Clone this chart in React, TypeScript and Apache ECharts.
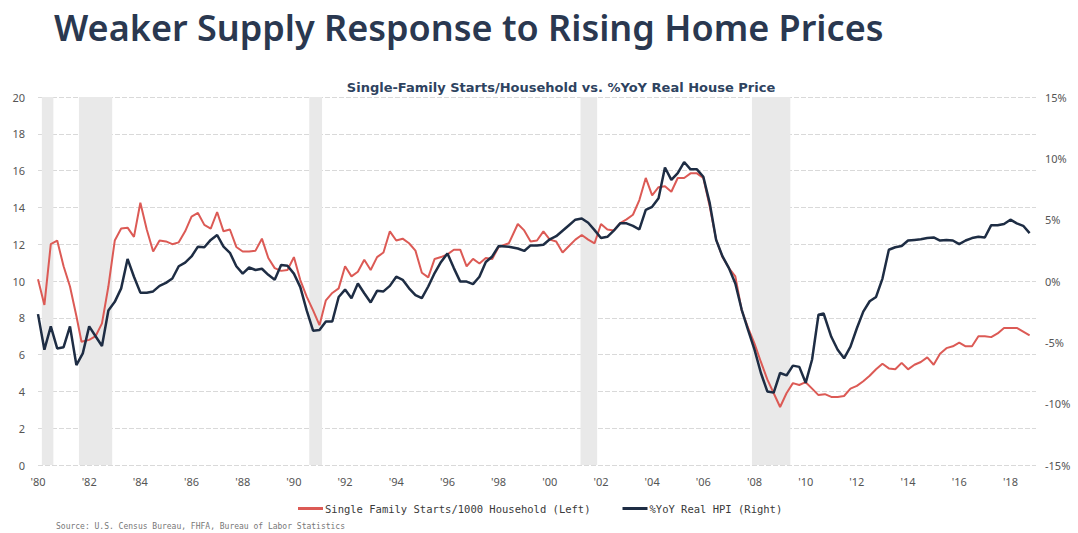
import React, { useEffect, useRef } from "react";
import * as echarts from "echarts";

const titleText = "Weaker Supply Response to Rising Home Prices";
const subtitleText = "Single-Family Starts/Household vs. %YoY Real House Price";
const sourceText = "Source: U.S. Census Bureau, FHFA, Bureau of Labor Statistics";
const startsName = "Single Family Starts/1000 Household (Left)";
const hpiName = "%YoY Real HPI (Right)";

// [year, starts per 1000 households]
const startsSeries: [number, number][] = [
  [1980.0, 10.1], [1980.25, 8.7], [1980.5, 12.0], [1980.75, 12.2],
  [1981.0, 10.8], [1981.25, 9.7], [1981.5, 8.1], [1981.7, 6.7],
  [1982.0, 6.8], [1982.25, 7.0], [1982.5, 7.7], [1982.75, 9.7],
  [1983.0, 12.2], [1983.25, 12.85], [1983.5, 12.9], [1983.75, 12.4],
  [1984.0, 14.25], [1984.25, 12.8], [1984.5, 11.6], [1984.75, 12.2],
  [1985.0, 12.15], [1985.25, 12.0], [1985.5, 12.1], [1985.75, 12.7],
  [1986.0, 13.5], [1986.25, 13.7], [1986.5, 13.05], [1986.75, 12.85],
  [1987.0, 13.75], [1987.25, 12.7], [1987.5, 12.8], [1987.75, 11.85],
  [1988.0, 11.6], [1988.25, 11.6], [1988.5, 11.65], [1988.75, 12.3],
  [1989.0, 11.25], [1989.25, 10.7], [1989.5, 10.55], [1989.75, 10.6],
  [1990.0, 11.3], [1990.25, 10.05], [1990.5, 9.15], [1990.75, 8.4],
  [1991.0, 7.6], [1991.25, 8.95], [1991.5, 9.35], [1991.75, 9.6],
  [1992.0, 10.8], [1992.25, 10.25], [1992.5, 10.5], [1992.75, 11.15],
  [1993.0, 10.6], [1993.25, 11.3], [1993.5, 11.55], [1993.75, 12.7],
  [1994.0, 12.2], [1994.25, 12.3], [1994.5, 12.05], [1994.75, 11.65],
  [1995.0, 10.45], [1995.25, 10.2], [1995.5, 11.2], [1995.75, 11.3],
  [1996.0, 11.45], [1996.25, 11.7], [1996.5, 11.7], [1996.75, 10.8],
  [1997.0, 11.2], [1997.25, 10.95], [1997.5, 11.25], [1997.75, 11.2],
  [1998.0, 11.85], [1998.4, 12.05], [1998.75, 13.1],
  [1999.0, 12.75], [1999.25, 12.15], [1999.5, 12.2], [1999.75, 12.7],
  [2000.0, 12.25], [2000.25, 12.15], [2000.5, 11.55], [2000.75, 11.9],
  [2001.0, 12.25], [2001.25, 12.5], [2001.5, 12.25], [2001.75, 12.05],
  [2002.0, 13.1], [2002.25, 12.8], [2002.5, 12.75], [2002.75, 13.15],
  [2003.0, 13.35], [2003.25, 13.6], [2003.5, 14.4], [2003.75, 15.6],
  [2004.0, 14.65], [2004.25, 15.1], [2004.5, 15.15], [2004.75, 14.85],
  [2005.0, 15.6], [2005.25, 15.6], [2005.5, 15.85], [2005.75, 15.85],
  [2006.0, 15.6], [2006.25, 14.05], [2006.5, 12.25], [2006.75, 11.3],
  [2007.0, 10.7], [2007.25, 10.25], [2007.5, 8.4], [2007.75, 7.45],
  [2008.0, 6.6], [2008.25, 5.6], [2008.5, 4.65], [2008.75, 3.9],
  [2009.0, 3.15], [2009.25, 3.9], [2009.5, 4.45], [2009.75, 4.35],
  [2010.0, 4.5], [2010.25, 4.15], [2010.5, 3.8], [2010.75, 3.85],
  [2011.0, 3.7], [2011.25, 3.7], [2011.5, 3.75], [2011.75, 4.15],
  [2012.0, 4.3], [2012.25, 4.55], [2012.5, 4.85], [2012.75, 5.2],
  [2013.0, 5.5], [2013.25, 5.25], [2013.5, 5.2], [2013.75, 5.55],
  [2014.0, 5.2], [2014.25, 5.45], [2014.5, 5.6], [2014.75, 5.85],
  [2015.0, 5.45], [2015.25, 6.05], [2015.5, 6.35], [2015.75, 6.45],
  [2016.0, 6.65], [2016.25, 6.45], [2016.5, 6.45], [2016.75, 7.0],
  [2017.0, 7.0], [2017.25, 6.95], [2017.5, 7.15], [2017.75, 7.45],
  [2018.0, 7.45], [2018.25, 7.45], [2018.5, 7.25], [2018.75, 7.05],
];

// [year, % YoY real HPI]
const hpiSeries: [number, number][] = [
  [1980.0, -2.7], [1980.25, -5.6], [1980.5, -3.7], [1980.75, -5.5],
  [1981.0, -5.4], [1981.25, -3.7], [1981.5, -6.85], [1981.75, -5.9],
  [1982.0, -3.7], [1982.25, -4.5], [1982.5, -5.3], [1982.75, -2.4],
  [1983.0, -1.7], [1983.25, -0.6], [1983.5, 1.8], [1983.75, 0.35],
  [1984.0, -0.95], [1984.25, -0.95], [1984.5, -0.85], [1984.75, -0.4],
  [1985.0, -0.15], [1985.25, 0.2], [1985.5, 1.2], [1985.75, 1.5],
  [1986.0, 2.0], [1986.25, 2.8], [1986.5, 2.75], [1986.75, 3.35],
  [1987.0, 3.75], [1987.25, 2.8], [1987.5, 2.3], [1987.75, 1.2],
  [1988.0, 0.6], [1988.25, 1.1], [1988.5, 0.9], [1988.75, 1.0],
  [1989.0, 0.5], [1989.25, 0.1], [1989.5, 1.3], [1989.75, 1.25],
  [1990.0, 0.6], [1990.25, -0.5], [1990.5, -2.4], [1990.75, -4.05],
  [1991.0, -4.0], [1991.25, -3.3], [1991.5, -3.3], [1991.75, -1.3],
  [1992.0, -0.7], [1992.25, -1.4], [1992.5, -0.2], [1992.75, -1.0],
  [1993.0, -1.75], [1993.25, -0.8], [1993.5, -0.85], [1993.75, -0.4],
  [1994.0, 0.35], [1994.25, 0.1], [1994.5, -0.6], [1994.75, -1.15],
  [1995.0, -1.4], [1995.25, -0.45], [1995.5, 0.65], [1995.75, 1.55],
  [1996.0, 2.25], [1996.25, 1.05], [1996.5, -0.05], [1996.75, -0.05],
  [1997.0, -0.25], [1997.25, 0.35], [1997.5, 1.55], [1997.75, 2.0],
  [1998.0, 2.85], [1998.4, 2.8], [1998.75, 2.65],
  [1999.0, 2.45], [1999.25, 2.9], [1999.5, 2.9], [1999.75, 2.95],
  [2000.0, 3.4], [2000.25, 3.65], [2000.5, 4.1], [2000.75, 4.55],
  [2001.0, 5.0], [2001.25, 5.1], [2001.5, 4.75], [2001.75, 4.15],
  [2002.0, 3.5], [2002.25, 3.6], [2002.5, 4.1], [2002.75, 4.7],
  [2003.0, 4.7], [2003.25, 4.5], [2003.5, 4.2], [2003.75, 5.8],
  [2004.0, 6.05], [2004.25, 6.75], [2004.5, 9.25], [2004.75, 8.25],
  [2005.0, 8.8], [2005.25, 9.7], [2005.5, 9.1], [2005.75, 9.1],
  [2006.0, 8.5], [2006.25, 6.35], [2006.5, 3.35], [2006.75, 2.0],
  [2007.0, 1.05], [2007.25, -0.2], [2007.5, -2.35], [2007.75, -4.0],
  [2008.0, -5.6], [2008.25, -7.5], [2008.5, -9.0], [2008.75, -9.1],
  [2009.0, -7.5], [2009.25, -7.7], [2009.5, -6.9], [2009.75, -7.0],
  [2010.0, -8.3], [2010.25, -6.4], [2010.5, -2.75], [2010.7, -2.65],
  [2011.0, -4.55], [2011.25, -5.6], [2011.5, -6.3], [2011.75, -5.35],
  [2012.0, -3.85], [2012.25, -2.5], [2012.5, -1.65], [2012.75, -1.3],
  [2013.0, 0.2], [2013.25, 2.55], [2013.5, 2.75], [2013.75, 2.85],
  [2014.0, 3.3], [2014.25, 3.35], [2014.5, 3.4], [2014.75, 3.5],
  [2015.0, 3.55], [2015.25, 3.3], [2015.5, 3.35], [2015.75, 3.3],
  [2016.0, 3.0], [2016.25, 3.3], [2016.5, 3.5], [2016.75, 3.6],
  [2017.0, 3.55], [2017.25, 4.55], [2017.5, 4.55], [2017.75, 4.65],
  [2018.0, 5.0], [2018.25, 4.7], [2018.5, 4.5], [2018.75, 3.9],
];

const recessionStarts = [1980.15, 1981.6, 1990.6, 2001.2, 2007.9];
const recessionEnds = [1980.6, 1982.9, 1991.1, 2001.85, 2009.4];

const leftTicks = { min: 0, max: 20, interval: 2 };
const rightTicks = { min: -15, max: 15, interval: 5 };
const xRange = { min: 1980, max: 2019, interval: 2 };

const RED = "#dc5a55";
const NAVY = "#1e2d44";
const LABEL_FONT = "'Noto Sans', 'Liberation Sans', sans-serif";
const WIDE_FONT = "'DejaVu Sans', 'Noto Sans', sans-serif";
const MONO_FONT = "'DejaVu Sans Mono', 'Liberation Mono', monospace";

export default function App() {
  const ref = useRef<HTMLDivElement>(null);

  useEffect(() => {
    document.body.style.margin = "0";
    const chart = echarts.init(ref.current!, null, { renderer: "svg" });
    const bands = recessionStarts.map((s, i) => [
      { xAxis: s },
      { xAxis: recessionEnds[i] },
    ]);
    chart.setOption({
      animation: false,
      backgroundColor: "#ffffff",
      textStyle: { fontFamily: LABEL_FONT },
      title: [
        {
          text: titleText,
          left: 49,
          top: 4,
          textStyle: {
            fontFamily: LABEL_FONT,
            fontSize: 36,
            fontWeight: 600,
            color: "#2a3850",
          },
        },
        {
          text: subtitleText,
          left: 556,
          top: 76,
          textAlign: "center",
          textStyle: {
            fontFamily: WIDE_FONT,
            fontSize: 13,
            fontWeight: "bold",
            color: "#2e4360",
          },
        },
      ],
      legend: {
        left: 298,
        top: 503,
        padding: 0,
        itemWidth: 25,
        itemHeight: 3,
        itemGap: 32,
        icon: "rect",
        textStyle: { fontSize: 10.5, color: "#3a3a3a", fontFamily: MONO_FONT, padding: [0, 0, 0, -3] },
        data: [startsName, hpiName],
      },
      graphic: [
        {
          type: "text",
          left: 56,
          top: 522,
          style: {
            text: sourceText,
            fontSize: 8,
            fill: "#777",
            fontFamily: MONO_FONT,
          },
        },
      ],
      grid: { left: 38, right: 42, top: 97, bottom: 68 },
      xAxis: {
        type: "value",
        min: xRange.min,
        max: xRange.max,
        interval: xRange.interval,
        axisLine: { show: false },
        axisTick: { show: false },
        splitLine: { show: false },
        axisLabel: {
          color: "#555",
          fontSize: 11,
          margin: 11,
          formatter: (v: number) => (v >= 2019 ? "" : "'" + String(v).slice(2)),
        },
      },
      yAxis: [
        {
          type: "value",
          min: leftTicks.min,
          max: leftTicks.max,
          interval: leftTicks.interval,
          axisLine: { show: false },
          axisTick: { show: false },
          axisLabel: { color: "#555", fontSize: 11, margin: 13 },
          splitLine: {
            show: true,
            lineStyle: { color: "#d9d9d9", type: [5, 2], width: 1 },
          },
        },
        {
          type: "value",
          min: rightTicks.min,
          max: rightTicks.max,
          interval: rightTicks.interval,
          position: "right",
          axisLine: { show: false },
          axisTick: { show: false },
          splitLine: { show: false },
          axisLabel: {
            color: "#555",
            fontSize: 11,
            margin: 9,
            formatter: (v: number) => v + "%",
          },
        },
      ],
      series: [
        {
          name: startsName,
          type: "line",
          yAxisIndex: 0,
          data: startsSeries,
          showSymbol: false,
          lineStyle: { color: RED, width: 2 },
          itemStyle: { color: RED },
          markArea: {
            silent: true,
            itemStyle: { color: "#e9e9e9" },
            data: bands,
          },
          z: 2,
        },
        {
          name: hpiName,
          type: "line",
          yAxisIndex: 1,
          data: hpiSeries,
          showSymbol: false,
          lineStyle: { color: NAVY, width: 2.5 },
          itemStyle: { color: NAVY },
          z: 3,
        },
      ],
    });
    return () => chart.dispose();
  }, []);

  return <div ref={ref} style={{ width: 1078, height: 533 }} />;
}
